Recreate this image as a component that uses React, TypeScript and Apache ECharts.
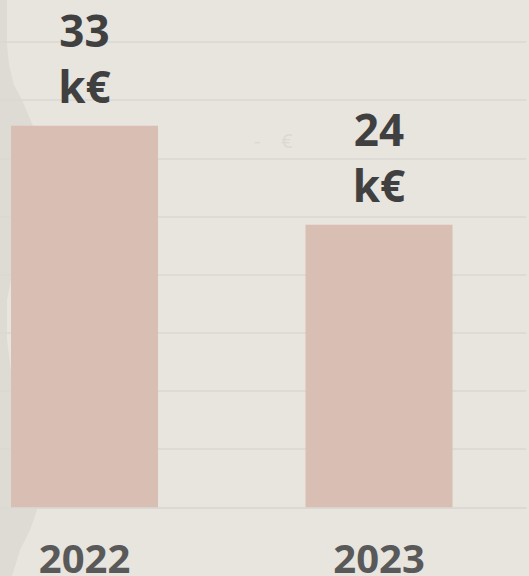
import React, { useEffect, useRef } from "react";
import * as echarts from "echarts";

const categories = ["2022", "2023"];
const values = [32.8, 24.3];
const unitSuffix = "k€";
const faintLabel = "-    €";

export default function App() {
  const ref = useRef<HTMLDivElement>(null);

  useEffect(() => {
    if (!ref.current) return;
    const chart = echarts.init(ref.current, undefined, { renderer: "svg" });
    const font = "'Open Sans', Lato, sans-serif";
    chart.setOption({
      animation: false,
      backgroundColor: "#e8e4de",
      graphic: [
        {
          type: "polygon",
          z: -10,
          silent: true,
          shape: {
            points: [
              [0, 0], [7, 0], [7, 45], [9, 65], [14, 85], [22, 100], [33, 126],
              [40, 150], [30, 220], [14, 265], [7, 300], [7, 340], [12, 380],
              [25, 430], [38, 480], [38, 507], [30, 530], [20, 550], [12, 576], [0, 576],
            ],
          },
          style: { fill: "#dedad4" },
        },
        {
          type: "text",
          z: -5,
          x: 254,
          y: 130,
          silent: true,
          style: {
            text: faintLabel,
            font: `20px ${font}`,
            fill: "#dcd8d2",
          },
        },
      ],
      grid: {
        left: -62.75,
        right: 2.75,
        top: 42,
        bottom: 68.7,
        containLabel: false,
        outerBoundsMode: "none",
      },
      xAxis: {
        type: "category",
        data: categories,
        axisTick: { show: false },
        axisLine: { show: true, lineStyle: { color: "#dbd8d3", width: 1.5 } },
        axisLabel: {
          margin: 30,
          fontSize: 40,
          fontWeight: "bold",
          fontFamily: font,
          color: "#595959",
        },
      },
      yAxis: {
        type: "value",
        min: 0,
        max: 40,
        interval: 5,
        axisLabel: { show: false },
        axisLine: { show: false },
        axisTick: { show: false },
        splitLine: { show: true, lineStyle: { color: "#dbd8d3", width: 1.5 } },
      },
      series: [
        {
          type: "bar",
          data: values,
          barWidth: 147,
          itemStyle: { color: "#d9beb4" },
          label: {
            show: true,
            position: "top",
            distance: 12,
            formatter: (p: any) => `${Math.round(p.value)}\n${unitSuffix}`,
            fontSize: 44,
            lineHeight: 56,
            fontWeight: "bold",
            fontFamily: font,
            color: "#404040",
          },
        },
      ],
    });
    return () => chart.dispose();
  }, []);

  return (
    <div
      ref={ref}
      style={{ position: "fixed", left: 0, top: 0, width: 529, height: 576 }}
    />
  );
}
